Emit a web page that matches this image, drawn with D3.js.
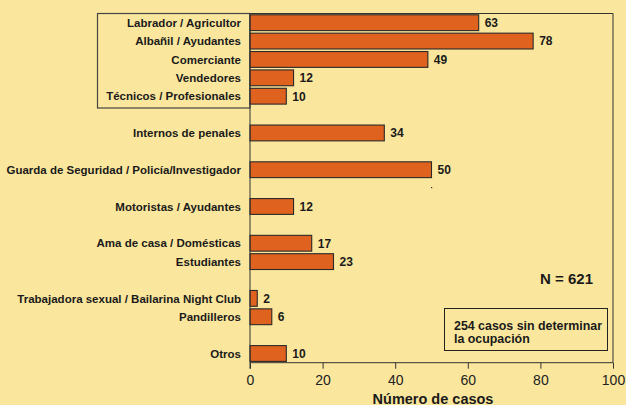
<!DOCTYPE html>
<html><head><meta charset="utf-8">
<script src="https://cdn.jsdelivr.net/npm/d3@7"></script>
<style>
html,body{margin:0;padding:0;background:#FAE79D;}
svg{display:block;}
text{font-family:"Liberation Sans",Arial,sans-serif;}
</style></head>
<body>
<svg id="chart" width="626" height="405"></svg>
<script>
// Categories, with "" for empty gap slots
const categories = [
  "Labrador / Agricultor",
  "Albañil / Ayudantes",
  "Comerciante",
  "Vendedores",
  "Técnicos / Profesionales",
  "",
  "Internos de penales",
  "",
  "Guarda de Seguridad / Policía/Investigador",
  "",
  "Motoristas / Ayudantes",
  "",
  "Ama de casa / Domésticas",
  "Estudiantes",
  "",
  "Trabajadora sexual / Bailarina Night Club",
  "Pandilleros",
  "",
  "Otros"
];
// bar lengths as drawn in the picture
const values = [63, 78, 49, 12, 10, null, 37, null, 50, null, 12, null, 17, 23, null, 2, 6, null, 10];
// numbers printed beside the bars
const valueLabels = ["63", "78", "49", "12", "10", null, "34", null, "50", null, "12", null, "17", "23", null, "2", "6", null, "10"];
const xTicks = [0, 20, 40, 60, 80, 100];
const xTitle = "Número de casos";
const nLabel = "N = 621";
const noteLines = ["254 casos sin determinar", "la ocupación"];

(function () {
const svg = d3.select("#chart");
const pL = 250, pR = 613, pT = 13.5, pB = 362.7;

const x = d3.scaleLinear().domain([0, 100]).range([pL, pR]);
const y = d3.scaleBand().domain(d3.range(categories.length)).range([pT, pB]).paddingInner(0.14).paddingOuter(0.07);

const data = categories.map((c, i) => ({c, v: values[i], lab: valueLabels[i], i})).filter(d => d.v != null);

// plot frame (top and right)
svg.append("path")
  .attr("d", `M${pL},${pT}H${pR}V${pB}`)
  .attr("fill", "none").attr("stroke", "#333").attr("stroke-width", 1);

// left box around first group of labels
svg.append("rect").attr("x", 97.5).attr("y", pT).attr("width", pL - 97.5).attr("height", 108 - pT)
  .attr("fill", "none").attr("stroke", "#444").attr("stroke-width", 1.2);

// bars
svg.selectAll("rect.bar").data(data).join("rect")
  .attr("class", "bar")
  .attr("x", x(0))
  .attr("y", d => y(d.i))
  .attr("width", d => x(d.v) - x(0))
  .attr("height", y.bandwidth())
  .attr("fill", "#E0621F")
  .attr("stroke", "#2a2a2a").attr("stroke-width", 1.1);

// value labels
svg.selectAll("text.val").data(data).join("text")
  .attr("class", "val")
  .attr("x", d => x(d.v) + 6)
  .attr("y", d => y(d.i) + y.bandwidth() / 2)
  .attr("dy", "0.36em")
  .attr("font-size", 12).attr("font-weight", "bold").attr("fill", "#1a1a1a")
  .text(d => d.lab);

// category labels
svg.selectAll("text.cat").data(data).join("text")
  .attr("class", "cat")
  .attr("x", 241)
  .attr("y", d => y(d.i) + y.bandwidth() / 2)
  .attr("dy", "0.36em")
  .attr("text-anchor", "end")
  .attr("font-size", 11.5).attr("font-weight", "bold").attr("fill", "#1a1a1a")
  .text(d => d.c);

// x axis
const xAxis = d3.axisBottom(x).tickValues(xTicks).tickSize(6).tickPadding(6.5).tickFormat(d3.format("d"));
const gx = svg.append("g").attr("transform", `translate(0,${pB})`).call(xAxis);
gx.select(".domain").attr("stroke", "#333").attr("d", `M${pL},0H${pR}`);
gx.selectAll(".tick line").attr("stroke", "#333");
gx.selectAll(".tick text").attr("font-size", 14).attr("fill", "#222")
  .attr("font-family", "'Liberation Sans',Arial,sans-serif");

// y axis line
svg.append("line").attr("x1", pL).attr("x2", pL).attr("y1", pT).attr("y2", pB + 6)
  .attr("stroke", "#333").attr("stroke-width", 1);

// x title
svg.append("text").attr("x", 433).attr("y", 404)
  .attr("text-anchor", "middle").attr("font-size", 14.5).attr("font-weight", "bold").attr("fill", "#1a1a1a")
  .text(xTitle);

// N label
svg.append("text").attr("x", 593).attr("y", 279).attr("dy", "0.36em")
  .attr("text-anchor", "end").attr("font-size", 15).attr("font-weight", "bold").attr("fill", "#1a1a1a")
  .text(nLabel);

// note box
svg.append("rect").attr("x", 444.5).attr("y", 308.5).attr("width", 163).attr("height", 42)
  .attr("fill", "none").attr("stroke", "#222").attr("stroke-width", 1);
svg.selectAll("text.note").data(noteLines).join("text")
  .attr("class", "note")
  .attr("x", 454).attr("y", (d, i) => 325.7 + i * 12.7).attr("dy", "0.36em")
  .attr("font-size", 12.4).attr("font-weight", "bold").attr("fill", "#1a1a1a")
  .text(d => d);

// stray dot
svg.append("rect").attr("x", 431).attr("y", 187).attr("width", 1.2).attr("height", 1.2).attr("fill", "#333");
})();
</script>
</body></html>
